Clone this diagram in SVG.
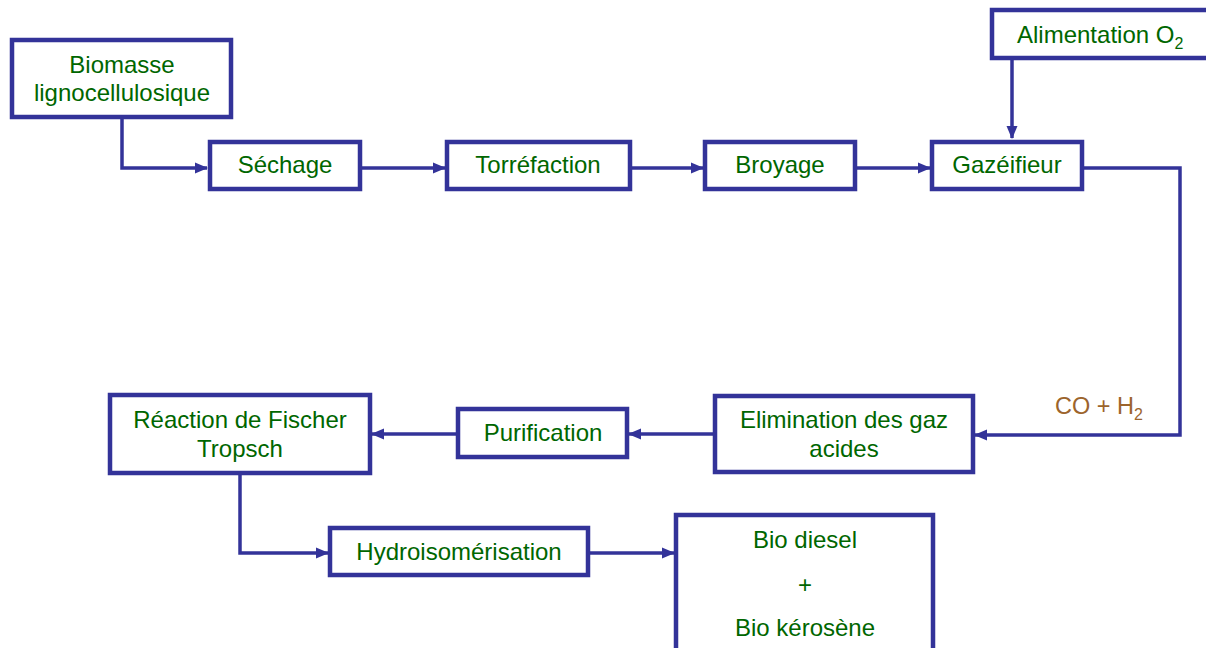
<svg xmlns="http://www.w3.org/2000/svg" width="1206" height="648" viewBox="0 0 1206 648">
<style>
.box{fill:#fff;stroke:#333399;stroke-width:4.5}
.t{font-family:"Liberation Sans",Arial,sans-serif;font-size:24px;fill:#006600;text-anchor:middle}
.c{fill:none;stroke:#333399;stroke-width:3.5}
.lbl{font-family:"Liberation Sans",Arial,sans-serif;font-size:23.5px;fill:#9c642c}
</style>
<defs>
<marker id="ah" markerUnits="userSpaceOnUse" markerWidth="13" markerHeight="13" viewBox="0 0 13 13" refX="12" refY="6.5" orient="auto">
<path d="M0,1 L13,6.5 L0,12 Z" fill="#333399"/>
</marker>
</defs>
<g id="connectors">
<path class="c" d="M122,118 V168 H207" marker-end="url(#ah)"/>
<path class="c" d="M360,168 H445" marker-end="url(#ah)"/>
<path class="c" d="M630,168 H703" marker-end="url(#ah)"/>
<path class="c" d="M855,168 H930" marker-end="url(#ah)"/>
<path class="c" d="M1012,59 V138" marker-end="url(#ah)"/>
<path class="c" d="M1082,168 H1180 V435 H975" marker-end="url(#ah)"/>
<path class="c" d="M715,434 H629" marker-end="url(#ah)"/>
<path class="c" d="M458,434 H372" marker-end="url(#ah)"/>
<path class="c" d="M240,473 V553 H328" marker-end="url(#ah)"/>
<path class="c" d="M588,553 H674" marker-end="url(#ah)"/>
</g>
<g id="biomasse"><rect class="box" x="12" y="40" width="219" height="77"/><text class="t" x="122" y="73">Biomasse</text><text class="t" x="122" y="101">lignocellulosique</text></g>
<g id="sechage"><rect class="box" x="210" y="142" width="150" height="47"/><text class="t" x="285" y="173">Séchage</text></g>
<g id="torrefaction"><rect class="box" x="447" y="142" width="183" height="47"/><text class="t" x="538" y="173">Torréfaction</text></g>
<g id="broyage"><rect class="box" x="705" y="142" width="150" height="47"/><text class="t" x="780" y="173">Broyage</text></g>
<g id="gazeifieur"><rect class="box" x="932" y="142" width="150" height="47"/><text class="t" x="1007" y="173">Gazéifieur</text></g>
<g id="alimentation"><rect class="box" x="992" y="10" width="222" height="48"/><text class="t" x="1017" y="43" style="text-anchor:start">Alimentation O<tspan font-size="16" dy="6">2</tspan></text></g>
<g id="elimination"><rect class="box" x="715" y="396" width="258" height="76"/><text class="t" x="844" y="428">Elimination des gaz</text><text class="t" x="844" y="457">acides</text></g>
<g id="purification"><rect class="box" x="458" y="409" width="169" height="48"/><text class="t" x="543" y="441">Purification</text></g>
<g id="fischer"><rect class="box" x="110" y="395" width="260" height="78"/><text class="t" x="240" y="428">Réaction de Fischer</text><text class="t" x="240" y="457">Tropsch</text></g>
<g id="hydro"><rect class="box" x="330" y="528" width="258" height="47"/><text class="t" x="459" y="560">Hydroisomérisation</text></g>
<g id="bio"><rect class="box" x="676" y="515" width="257" height="140"/><text class="t" x="805" y="548">Bio diesel</text><text class="t" x="805" y="593">+</text><text class="t" x="805" y="636">Bio kérosène</text></g>
<text class="lbl" x="1055" y="414">CO + H<tspan font-size="16" dy="6">2</tspan></text>
</svg>
